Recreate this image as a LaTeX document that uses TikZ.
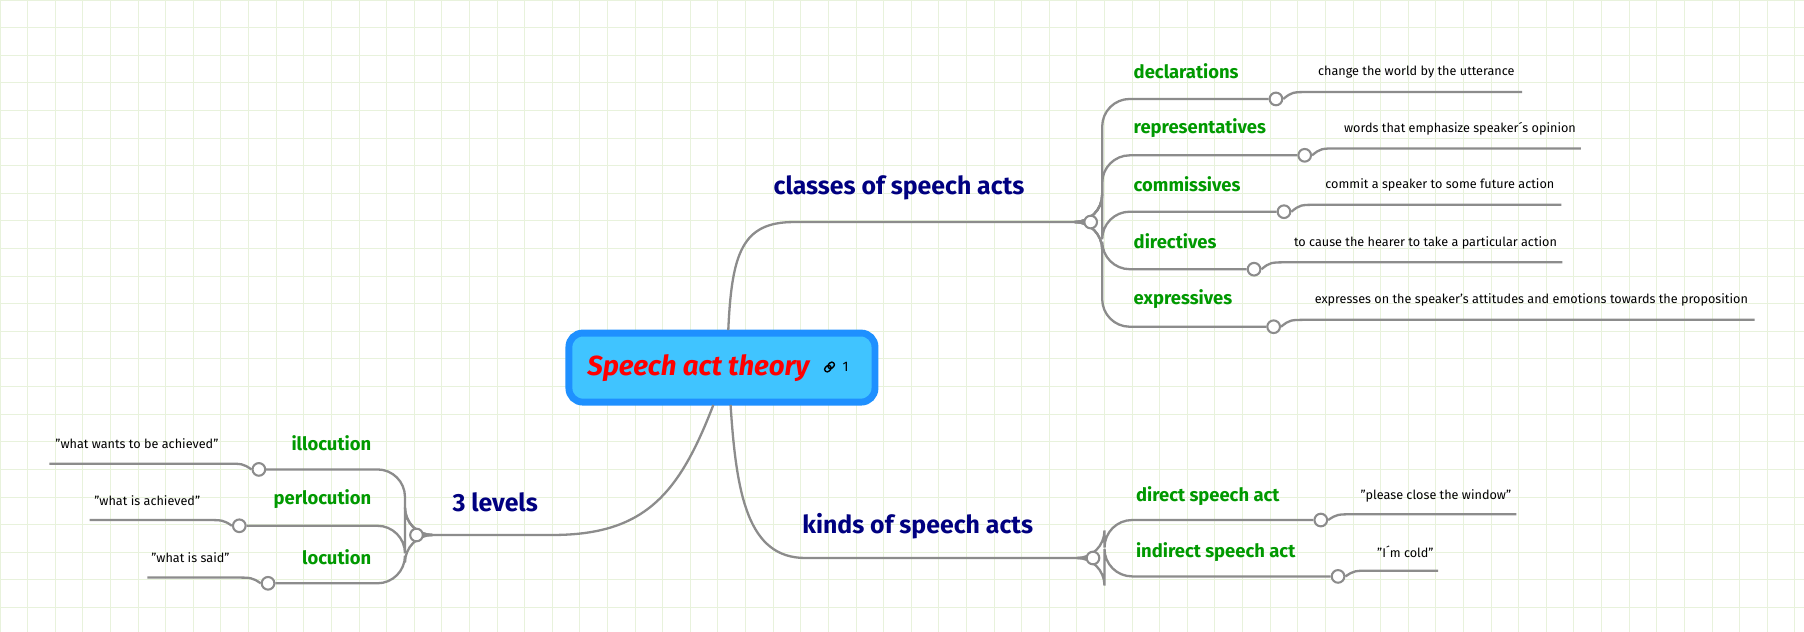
\documentclass[tikz,border=0pt]{standalone}
\usepackage{fontspec}
\setmainfont{Fira Sans}
\newcommand{\qq}{\symbol{34}}
\begin{document}
\begin{tikzpicture}[x=0.5pt,y=-0.5pt,
  ln/.style={draw=black!45,line width=1pt},
  dot/.style={circle,draw=black!45,line width=0.9pt,fill=white,inner sep=0pt,minimum size=5.5pt},
  navy/.style={font=\fontsize{10.8}{12}\selectfont\bfseries,text=blue!50!black,inner sep=0pt},
  grn/.style={font=\fontsize{8}{10}\selectfont\bfseries,text=green!60!black,inner sep=0pt},
  sm/.style={font=\fontsize{5.5}{7}\selectfont,inner sep=0pt},
  gridln/.style={draw={rgb,255:red,232;green,242;blue,220},line width=0.4pt}]
\useasboundingbox (0,0) rectangle (1568,549);
\fill[white] (0,0) rectangle (1568,549);
\foreach \i in {0,24,...,1560} \draw[gridln] (\i,0) -- (\i,549);
\foreach \j in {0,24,...,548} \draw[gridln] (0,\j) -- (1568,\j);
% root
\node[draw={rgb,255:red,30;green,144;blue,255},line width=3pt,fill={rgb,255:red,64;green,196;blue,255},rounded corners=6pt,minimum width=133pt,minimum height=30pt] (root) at (627.5,319.5) {};
\node[font=\fontsize{12}{14}\selectfont\bfseries\itshape,text=red,inner sep=0pt] (rt) at (607,320) {Speech act theory};
\node[font=\fontsize{6}{7}\selectfont,inner sep=0pt] (one) at (735,319) {1};
\begin{scope}[shift={(721,319)},line width=0.6pt]
\draw[rotate=45,rounded corners=1pt] (-5,-2.2) rectangle (1,2.2);
\draw[rotate=45,rounded corners=1pt] (-1,-2.2) rectangle (5,2.2);
\end{scope}
\coordinate (r1) at (633,287);
\coordinate (r2) at (635,352);
\coordinate (r3) at (620,352);
\coordinate (cl) at (948,193);
\coordinate (kd) at (950,485);
\coordinate (lv) at (362,465);
\draw[ln] (r1) .. controls (636,220) and (645,193) .. (690,193) -- (cl);
\draw[ln] (r2) .. controls (640,430) and (650,485) .. (700,485) -- (kd);
\draw[ln] (r3) .. controls (590,430) and (560,465) .. (480,465) -- (lv);
\node[navy,anchor=west] (tcl) at (672,163) {classes of speech acts};
\node[navy,anchor=west] (tkd) at (697,457) {kinds of speech acts};
\node[navy,anchor=west] (tlv) at (393,437) {3 levels};
% classes children
\foreach \n/\y/\cx/\ex/\lab/\txt in {
 a/86/1109/1323/declarations/change the world by the utterance,
 b/135/1134/1374/representatives/words that emphasize speaker´s opinion,
 c/184/1116/1357/commissives/commit a speaker to some future action,
 d/234/1090/1358/directives/to cause the hearer to take a particular action,
 e/284/1107/1525/expressives/expresses on the speaker's attitudes and emotions towards the proposition}{
 \node[dot] (d\n) at (\cx,\y) {};
 \coordinate (e\n) at (\ex,\y-6);
 \draw[ln,rounded corners=12pt] (cl) -| (958,\y) -- (d\n.west);
 \draw[ln] (d\n.east) .. controls (\cx+14,\y-6) .. (\cx+30,\y-6) -- (e\n);
 \node[grn,anchor=west] (g\n) at (985,\y-24) {\lab};
 \node[sm] (s\n) at ({(\cx+30+\ex)/2},\y-23) {\txt};
}
% kinds children
\foreach \n/\y/\cx/\ex/\lab/\txt in {
 f/452/1148/1318/direct speech act/\qq please close the window\qq,
 g/501/1163/1250/indirect speech act/\qq I´m cold\qq}{
 \node[dot] (d\n) at (\cx,\y) {};
 \coordinate (e\n) at (\ex,\y-5);
 \draw[ln,rounded corners=12pt] (kd) -| (960,\y) -- (d\n.west);
 \draw[ln] (d\n.east) .. controls (\cx+14,\y-5) .. (\cx+30,\y-5) -- (e\n);
 \node[grn,anchor=west] (g\n) at (987,\y-21) {\lab};
 \node[sm] (s\n) at ({(\cx+30+\ex)/2},\y-21) {\txt};
}
% levels children
\foreach \n/\y/\cx/\ex/\lab/\txt in {
 h/408/225/43/illocution/\qq what wants to be achieved\qq,
 i/457/208/78/perlocution/\qq what is achieved\qq,
 j/507/233/128/locution/\qq what is said\qq}{
 \node[dot] (d\n) at (\cx,\y) {};
 \coordinate (e\n) at (\ex,\y-5);
 \draw[ln,rounded corners=12pt] (lv) -| (352,\y) -- (d\n.east);
 \draw[ln] (d\n.west) .. controls (\cx-14,\y-5) .. (\cx-30,\y-5) -- (e\n);
 \node[grn,anchor=east] (g\n) at (323,\y-23) {\lab};
 \node[sm] (s\n) at ({(\cx-30+\ex)/2},\y-22) {\txt};
}
\node[dot] (clD) at (cl) {};
\node[dot] (kdD) at (kd) {};
\node[dot] (lvD) at (lv) {};
\end{tikzpicture}
\end{document}
